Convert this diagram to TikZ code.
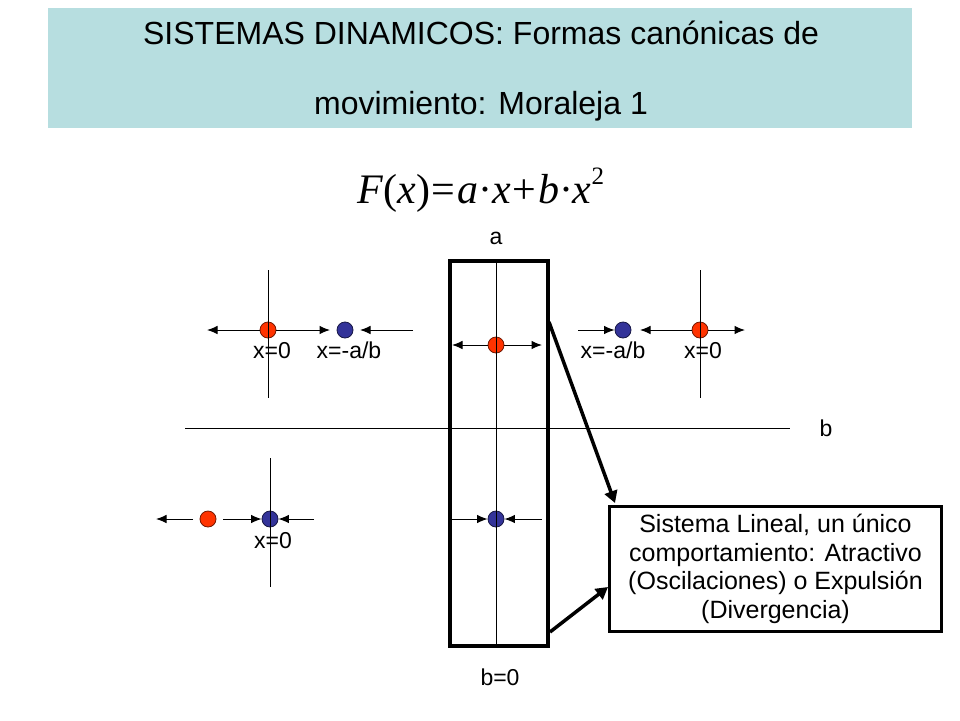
\documentclass[tikz,border=0pt]{standalone}
\usepackage{fontspec}
\setmainfont{Liberation Sans}
\newfontfamily\serifeq{Liberation Serif}
\usetikzlibrary{arrows.meta}
\definecolor{titlebg}{RGB}{183,222,224}
\definecolor{reddot}{RGB}{255,51,0}
\definecolor{bluedot}{RGB}{51,51,153}
\begin{document}
\begin{tikzpicture}[x=1pt,y=-1pt,
  arr/.style={-{Latex[length=10.5pt,width=8.5pt]}, line width=1pt},
  axis/.style={line width=1pt},
  rdot/.style={circle,fill=reddot,draw=black!55!reddot,line width=0.8pt,minimum size=16pt,inner sep=0pt},
  bdot/.style={circle,fill=bluedot,draw=black!55!bluedot,line width=0.8pt,minimum size=16pt,inner sep=0pt},
  lbl/.style={font=\fontsize{23}{27}\selectfont, inner sep=0pt, anchor=base},
  bigarr/.style={-{Triangle[length=12pt,width=13pt]}, line width=3.5pt},
  titletxt/.style={font=\fontsize{32}{38}\selectfont, inner sep=0pt, anchor=base}]
\useasboundingbox (0,0) rectangle (960,720);
% title
\node[fill=titlebg, minimum width=864pt, minimum height=120pt, inner sep=0pt] (title) at (480,68) {};
\node[titletxt] (t1) at (481,44.5) {SISTEMAS DINAMICOS: Formas canónicas de};
\node[titletxt] (t2) at (481,114.5) {movimiento: Moraleja 1};
% formula
\node[font=\serifeq\fontsize{42}{50}\selectfont, inner sep=0pt] (eq) at (481,190)
  {\textit{F}(\textit{x})\kern1.5pt=\kern1.5pt\textit{a}·\textit{x}\kern2pt+\kern1.5pt\textit{b}·\textit{x}\raisebox{0.45em}{\fontsize{25}{25}\selectfont 2}};
% labels
\node[lbl] (la) at (496,244) {a};
\node[lbl] (lb) at (826,436) {b};
\node[lbl] (lb0) at (500,685) {b=0};
\node[lbl] (x1) at (272,358) {x=0};
\node[lbl] (x2) at (349,358) {x=-a/b};
\node[lbl] (x3) at (613,358) {x=-a/b};
\node[lbl] (x4) at (703,358) {x=0};
\node[lbl] (x5) at (273,548) {x=0};
% central box
\node[draw, line width=4pt, minimum width=98pt, minimum height=385pt, inner sep=0pt] (bx) at (499,453.5) {};
% text box
\node[draw, line width=3.8pt, minimum width=332pt, minimum height=125pt, align=center,
  font=\fontsize{25}{28.5}\selectfont, inner sep=0pt] (tb) at (775.5,569)
  {Sistema Lineal, un único\\comportamiento: Atractivo\\(Oscilaciones) o Expulsión\\(Divergencia)};
% dots
\node[rdot] (r1) at (268,330) {};
\node[bdot] (b1) at (345,330) {};
\node[rdot] (r3) at (496,345) {};
\node[bdot] (b2) at (623,330) {};
\node[rdot] (r2) at (700,330) {};
\node[rdot] (r4) at (208,519) {};
\node[bdot] (b4) at (270,519) {};
\node[bdot] (b3) at (496,519) {};
% coordinates
\coordinate (v1a) at (268,270); \coordinate (v1b) at (268,398);
\coordinate (v2a) at (700,270); \coordinate (v2b) at (700,398);
\coordinate (v3a) at (270,458); \coordinate (v3b) at (270,587);
\coordinate (vma) at (496,263); \coordinate (vmb) at (496,644);
\coordinate (ha) at (185,428); \coordinate (hb) at (790,428);
\coordinate (p1) at (207,330); \coordinate (p2) at (330,330);
\coordinate (p3) at (413,330); \coordinate (p4) at (360,330);
\coordinate (p5) at (452,345); \coordinate (p6) at (542,345);
\coordinate (p7) at (578,330); \coordinate (p8) at (640,330);
\coordinate (p9) at (745,330);
\coordinate (q1) at (193,519); \coordinate (q2) at (156,519);
\coordinate (q3) at (223,519); \coordinate (q4) at (314,519);
\coordinate (q5) at (452,519); \coordinate (q6) at (542,519);
\coordinate (s1) at (549,322); \coordinate (e1) at (615,503);
\coordinate (s2) at (550,632); \coordinate (e2) at (608,587);
% axes
\draw[axis] (v1a) -- (v1b);
\draw[axis] (v2a) -- (v2b);
\draw[axis] (v3a) -- (v3b);
\draw[axis] (vma) -- (vmb);
\draw[axis] (ha) -- (hb);
% arrows
\draw[arr] (r1) -- (p1);
\draw[arr] (r1) -- (p2);
\draw[arr] (p3) -- (p4);
\draw[arr] (r3) -- (p5);
\draw[arr] (r3) -- (p6);
\draw[arr] (p7) -- (b2);
\draw[arr] (r2) -- (p8);
\draw[arr] (r2) -- (p9);
\draw[arr] (q1) -- (q2);
\draw[arr] (q3) -- (b4);
\draw[arr] (q4) -- (b4);
\draw[arr] (q5) -- (b3);
\draw[arr] (q6) -- (b3);
% big arrows
\draw[bigarr] (s1) -- (e1);
\draw[bigarr] (s2) -- (e2);
\end{tikzpicture}
\end{document}
